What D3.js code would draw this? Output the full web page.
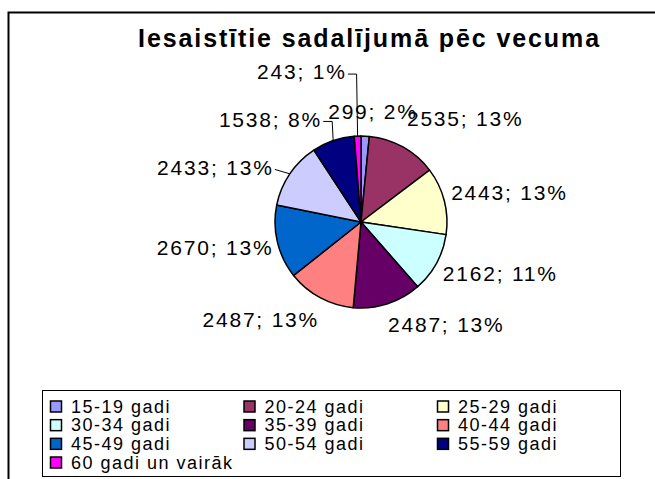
<!DOCTYPE html>
<html>
<head>
<meta charset="utf-8">
<script src="https://cdn.jsdelivr.net/npm/d3@7"></script>
<style>
  body { margin: 0; background: #fff; }
  text { font-family: "Liberation Sans", Arial, sans-serif; fill: #000; }
</style>
</head>
<body>
<script>
// data
var categories = ["15-19 gadi", "20-24 gadi", "25-29 gadi", "30-34 gadi", "35-39 gadi",
                  "40-44 gadi", "45-49 gadi", "50-54 gadi", "55-59 gadi", "60 gadi un vairāk"];
var values = [299, 2535, 2443, 2162, 2487, 2487, 2670, 2433, 1538, 243];
var percents = ["2%", "13%", "13%", "11%", "13%", "13%", "13%", "13%", "8%", "1%"];
var colors = ["#9999ff", "#993366", "#ffffcc", "#ccffff", "#660066",
              "#ff8080", "#0066cc", "#ccccff", "#000080", "#ff00ff"];
var title = "Iesaistītie sadalījumā pēc vecuma";

// label layout: anchor, nudge from the point just outside the arc, leader type
var labelAnchor = ["middle", "start", "start", "start", "start", "end", "end", "end", "end", "end"];
var labelNudge = [[7.5, -9.6], [1, -15], [1, -4.5], [1, 3], [-1.5, 7], [0, 9], [0, 2.5], [-13, 2], [-11, -7], [-12.4, -49]];
var leaderKind = [0, 0, 0, 0, 0, 0, 0, 1, 2, 2];

var W = 655, H = 479;
var cx = 361, cy = 222, r = 86;

var svg = d3.select('body').append('svg')
    .attr('width', W)
    .attr('height', H);

// outer chart border (runs off the window on right / bottom)
svg.append('rect')
    .attr('x', 8.5)
    .attr('y', 12.5)
    .attr('width', 700)
    .attr('height', 600)
    .attr('fill', 'none')
    .attr('stroke', '#000')
    .attr('stroke-width', 2);

svg.append('text')
    .attr('x', 369.5)
    .attr('y', 47)
    .attr('text-anchor', 'middle')
    .attr('font-size', 25)
    .attr('font-weight', 'bold')
    .attr('letter-spacing', 1.9)
    .text(title);

var pie = d3.pie().sort(null).value(function(d){ return d; });
var arcs = pie(values);
var arc = d3.arc().innerRadius(0).outerRadius(r);

var g = svg.append('g').attr('transform', 'translate(' + cx + ',' + cy + ')');

g.selectAll('path.slice')
    .data(arcs)
    .enter().append('path')
    .attr('class', 'slice')
    .attr('d', arc)
    .attr('fill', function(d, i){ return colors[i]; })
    .attr('stroke', '#000')
    .attr('stroke-width', 1.5)
    .attr('stroke-linejoin', 'round');

// labels
var fs = 21, ls = 1.8;
arcs.forEach(function(d, i){
    var a = (d.startAngle + d.endAngle) / 2;
    var s = Math.sin(a), c = Math.cos(a);
    var x = (r + 6) * s + labelNudge[i][0];
    var y = -(r + 6) * c - c * 9 + labelNudge[i][1];
    var anchor = labelAnchor[i];
    g.append('text')
        .attr('x', anchor == 'end' ? x + ls : x)
        .attr('y', y)
        .attr('dy', '0.35em')
        .attr('text-anchor', anchor)
        .attr('font-size', fs)
        .attr('letter-spacing', ls)
        .text(values[i] + '; ' + percents[i]);

    if (leaderKind[i] > 0) {
        var ex = r * s, ey = -r * c;
        var sx = x + 3, sy = y + 2;
        var p = d3.path();
        p.moveTo(sx, sy);
        if (leaderKind[i] == 2) {
            p.lineTo(ex - 1, sy);
        }
        p.lineTo(ex, ey);
        g.append('path')
            .attr('d', p.toString())
            .attr('fill', 'none')
            .attr('stroke', '#000')
            .attr('stroke-width', 1);
    }
});

// legend
var legend = svg.append('g');
legend.append('rect')
    .attr('x', 42.5)
    .attr('y', 390.5)
    .attr('width', 578)
    .attr('height', 86)
    .attr('fill', '#fff')
    .attr('stroke', '#000')
    .attr('stroke-width', 1);

var colX = d3.scaleLinear().domain([0, 2]).range([50, 437]);
var rowY = d3.scaleLinear().domain([0, 3]).range([406.5, 462.5]);

var item = legend.selectAll('g.item')
    .data(categories)
    .enter().append('g')
    .attr('class', 'item')
    .attr('transform', function(d, i){
        return 'translate(' + colX(i % 3) + ',' + rowY(Math.floor(i / 3)) + ')';
    });

item.append('rect')
    .attr('x', 0.5)
    .attr('y', -5.5)
    .attr('width', 11)
    .attr('height', 11)
    .attr('fill', function(d, i){ return colors[i]; })
    .attr('stroke', '#000')
    .attr('stroke-width', 1.5);

item.append('text')
    .attr('x', 21)
    .attr('y', 0)
    .attr('dy', '0.35em')
    .attr('font-size', 18)
    .attr('letter-spacing', 1.5)
    .text(function(d){ return d; });
</script>
</body>
</html>
